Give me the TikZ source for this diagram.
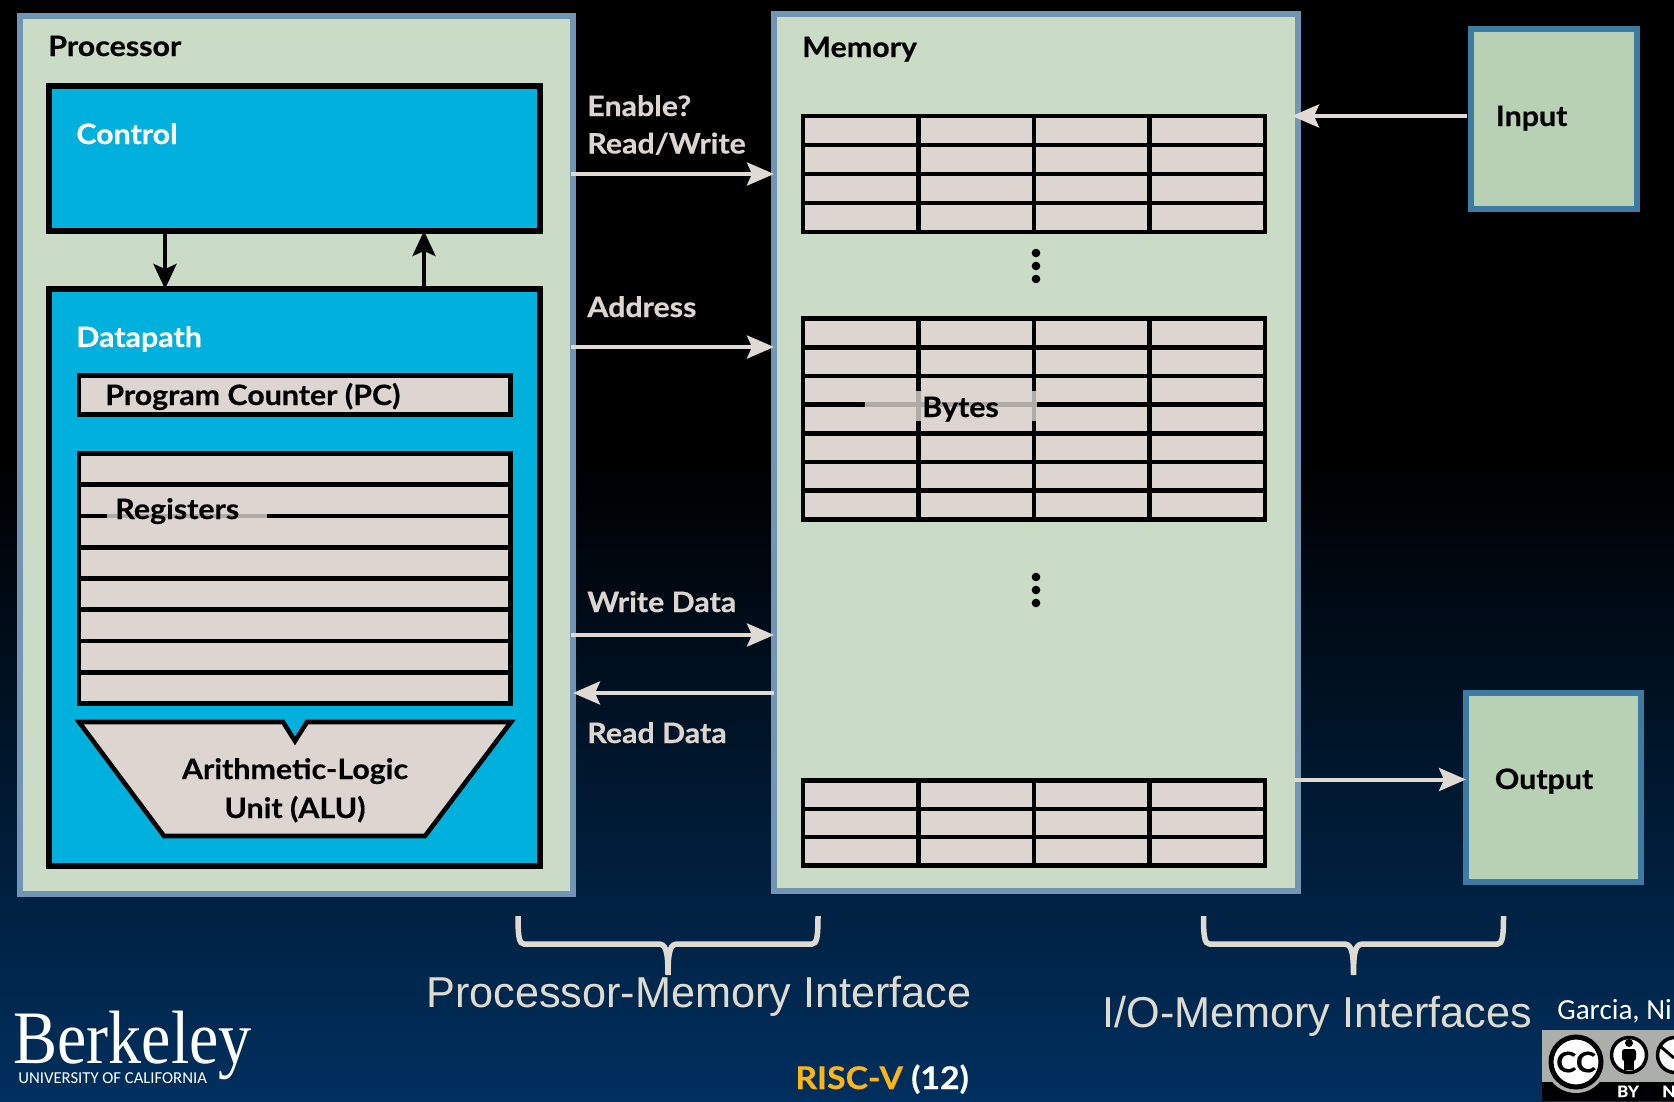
\documentclass[tikz,border=0pt]{standalone}
\usepackage{fontspec}
\setmainfont{Lato}[BoldFeatures={FakeBold=0.5,FakeStretch=1.08}]
\newfontfamily\arialfont{Liberation Sans}
\newfontfamily\timesfont{Liberation Serif}
\newfontfamily\calibrifont{Carlito}
\usetikzlibrary{calc, positioning, arrows.meta}

\definecolor{boardgreen}{HTML}{CADBC6}
\definecolor{boardedge}{HTML}{7195B3}
\definecolor{iogreen}{HTML}{B8D1B5}
\definecolor{ioedge}{HTML}{3D7BA3}
\definecolor{cyanfill}{HTML}{00B0DD}
\definecolor{cellgray}{HTML}{DDD6D0}
\definecolor{wiregray}{HTML}{E0DAD5}
\definecolor{bracegray}{HTML}{E0DBD0}
\definecolor{navybg}{HTML}{00305F}
\definecolor{riscgold}{HTML}{FDB515}
\definecolor{badgegray}{HTML}{ABAFA9}

\pgfdeclareverticalshading{slidebg}{100bp}{color(0bp)=(navybg); color(25bp)=(navybg); color(54bp)=(black); color(100bp)=(black)}

\newcommand{\px}{0.02cm}

\tikzset{
    sized/.style 2 args={minimum width=#1*\px, minimum height=#2*\px, inner sep=0pt, outer sep=0pt},
    board/.style={draw=boardedge, fill=boardgreen, line width=6.5*\px},
    iobox/.style={draw=ioedge, fill=iogreen, line width=6*\px},
    unitbox/.style={draw=black, fill=cyanfill, line width=6*\px},
    cellbox/.style={draw=black, fill=cellgray, line width=4.6*\px},
    cellline/.style={black, line width=4.6*\px},
    lbl/.style={anchor=base west, inner sep=0pt, font=\fontsize{16}{19}\selectfont\bfseries},
    wire/.style={wiregray, line width=4*\px, -{Stealth[length=27*\px, width=23*\px, inset=5*\px]}},
    ctrlwire/.style={black, line width=3.6*\px, -{Stealth[length=25*\px, width=23*\px, inset=5*\px]}},
    ifbrace/.pic={
        \draw[bracegray, line width=5.5*\px]
            (-150,916) .. controls (-150,936) and (-149,944) .. (-144,944) -- (-10,944)
            .. controls (-3,944) and (0,948) .. (0,975)
            .. controls (0,948) and (3,944) .. (10,944) -- (144,944)
            .. controls (149,944) and (150,936) .. (150,916);
    }
}

\begin{document}
\begin{tikzpicture}[x=\px, y=-\px]
    \useasboundingbox (0,0) rectangle (1674,1102);
    \clip (0,0) rectangle (1674,1102);
    \shade[shading=slidebg] (0,0) rectangle (1674,1102);

    % processor side
    \node[board, sized={553}{878}] (processor) at (296.5,455) {};
    \node[unitbox, sized={491}{145}] (control) at (294.5,158.5) {};
    \node[unitbox, sized={491}{577}] (datapath) at (294.5,577.5) {};
    \node[cellbox, sized={431.5}{39}] (pc) at (294.75,395) {};
    \node[cellbox, sized={431.5}{250}] (registers) at (294.75,578.5) {};
    \foreach \k in {1,...,7}
        \draw[cellline] ($(registers.north west)!\k/8!(registers.south west)$) -- ($(registers.north east)!\k/8!(registers.south east)$);
    \fill[cellgray, fill opacity=.8] (107,498) rectangle (267,534);

    % alu outline with its notch
    \draw[fill=cellgray, line width=4.6*\px, miter limit=6]
        (79,722) -- (283,722) -- (295,741) -- (307,722) -- (511,722) -- (425,836) -- (164,836) -- cycle;

    \coordinate (downx) at (165,0);
    \coordinate (upx) at (424,0);
    \draw[ctrlwire] (control.south -| downx) -- (datapath.north -| downx);
    \draw[ctrlwire] (datapath.north -| upx) -- (control.south -| upx);

    \node[lbl] (proclabel) at (48,56) {Processor};
    \node[lbl, white] (ctrllabel) at (76,144) {Control};
    \node[lbl, white] (dplabel) at (76,347) {Datapath};
    \node[lbl] (pclabel) at (105,405) {Program Counter (PC)};
    \node[lbl] (reglabel) at (115,519) {Registers};
    \node[lbl, anchor=base] (alulabel) at (295,779) {Arithmetic-Logic};
    \node[lbl, anchor=base] (alulabeltwo) at (295,818) {Unit (ALU)};

    % memory side
    \node[board, sized={524}{877}] (memory) at (1036,452.5) {};
    \foreach \gname/\yy/\hh/\rows in {topgrid/174/116/4, midgrid/419/201/7, lowgrid/823/85/3} {
        \node[cellbox, sized={462}{\hh}] (\gname) at (1034,\yy) {};
        \foreach \k in {1,2,3}
            \draw[cellline] ($(\gname.north west)!\k/4!(\gname.north east)$) -- ($(\gname.south west)!\k/4!(\gname.south east)$);
        \pgfmathtruncatemacro{\last}{\rows-1}
        \foreach \k in {1,...,\last}
            \draw[cellline] ($(\gname.north west)!\k/\rows!(\gname.south west)$) -- ($(\gname.north east)!\k/\rows!(\gname.south east)$);
    }
    \fill[cellgray, fill opacity=.8] (865,391) rectangle (1037,421);

    \foreach \yy in {253,266,279,577,590,603}
        \fill[black] (1036,\yy) circle[radius=4.3];

    \node[lbl] (memlabel) at (802,57) {Memory};
    \node[lbl] (byteslabel) at (922,417) {Bytes};

    % input and output
    \node[iobox, sized={166}{180}] (input) at (1554,119) {};
    \node[iobox, sized={175}{189}] (output) at (1553.5,787.5) {};
    \node[lbl] (inlabel) at (1495.5,126) {Input};
    \node[lbl] (outlabel) at (1494.5,789) {Output};

    % interface wires
    \foreach \yy in {174,347,635}
        \draw[wire, shorten <=-2*\px] (processor.east |- 0,\yy) -- (memory.west |- 0,\yy);
    \draw[wire] (memory.west |- 0,693) -- (processor.east |- 0,693);
    \draw[wire, shorten <=4*\px, shorten >=-6*\px] (input.west |- 0,116) -- (memory.east |- 0,116);
    \draw[wire, shorten <=-4*\px] (memory.east |- 0,779.5) -- (output.west |- 0,779.5);

    \node[lbl, cellgray] (enlabel) at (587,116) {Enable?};
    \node[lbl, cellgray] (rwlabel) at (587,153.5) {Read/Write};
    \node[lbl, cellgray] (addrlabel) at (587,317) {Address};
    \node[lbl, cellgray] (wrlabel) at (587,612) {Write Data};
    \node[lbl, cellgray] (rdlabel) at (587,743) {Read Data};

    % braces and captions
    \pic at (668,0) {ifbrace};
    \pic at (1353.5,0) {ifbrace};
    \node[lbl, bracegray, font=\fontsize{24.6}{28}\selectfont\arialfont] (pmif) at (426,1007) {Processor-Memory Interface};
    \node[lbl, bracegray, font=\fontsize{24.6}{28}\selectfont\arialfont] (ioif) at (1102,1027) {I/O-Memory Interfaces};

    % footer
    \node[lbl, white, font=\fontsize{43}{50}\selectfont\timesfont] (berkeley) at (13,1063) {\scalebox{.875}[1]{Berkeley}};
    \node[lbl, white, font=\fontsize{9.5}{11}\selectfont\calibrifont] (ucal) at (18,1083) {UNIVERSITY OF CALIFORNIA};
    \node[lbl, white, font=\fontsize{17.8}{22}\selectfont\bfseries] (slidenum) at (795,1089) {\textcolor{riscgold}{RISC-V} (12)};
    \node[lbl, white, font=\fontsize{16.6}{20}\selectfont\calibrifont] (garcia) at (1557,1019) {Garcia, Ni};

    % licence badge
    \fill[badgegray] (1542,1030) rectangle (1674,1101);
    \fill[black] (1542,1082) rectangle (1674,1101);
    \fill[badgegray] (1576,1062) circle[radius=31];
    \node[circle, draw=black, fill=white, line width=5*\px, minimum size=50*\px, inner sep=0pt, font=\fontsize{16}{16}\selectfont\bfseries] (ccmark) at (1576,1062) {CC};
    \node[circle, draw=black, fill=white, line width=3.5*\px, minimum size=35*\px, inner sep=0pt] (bymark) at (1629,1055) {};
    \fill[black] (1629,1043) circle[radius=4];
    \fill[black, rounded corners=1.5] (1622,1049) rectangle (1636,1061);
    \fill[black] (1624,1055) rectangle (1634,1070);
    \node[circle, draw=black, fill=white, line width=3.5*\px, minimum size=35*\px, inner sep=0pt] (ncmark) at (1675,1055) {};
    \draw[black, line width=3*\px] (1660,1046) -- (1674,1058);
    \node[lbl, white, font=\fontsize{9}{10}\selectfont\bfseries, anchor=base] (bylabel) at (1628,1097) {BY};
    \node[lbl, white, font=\fontsize{9}{10}\selectfont\bfseries] (nlabel) at (1662,1097) {N};
\end{tikzpicture}
\end{document}
